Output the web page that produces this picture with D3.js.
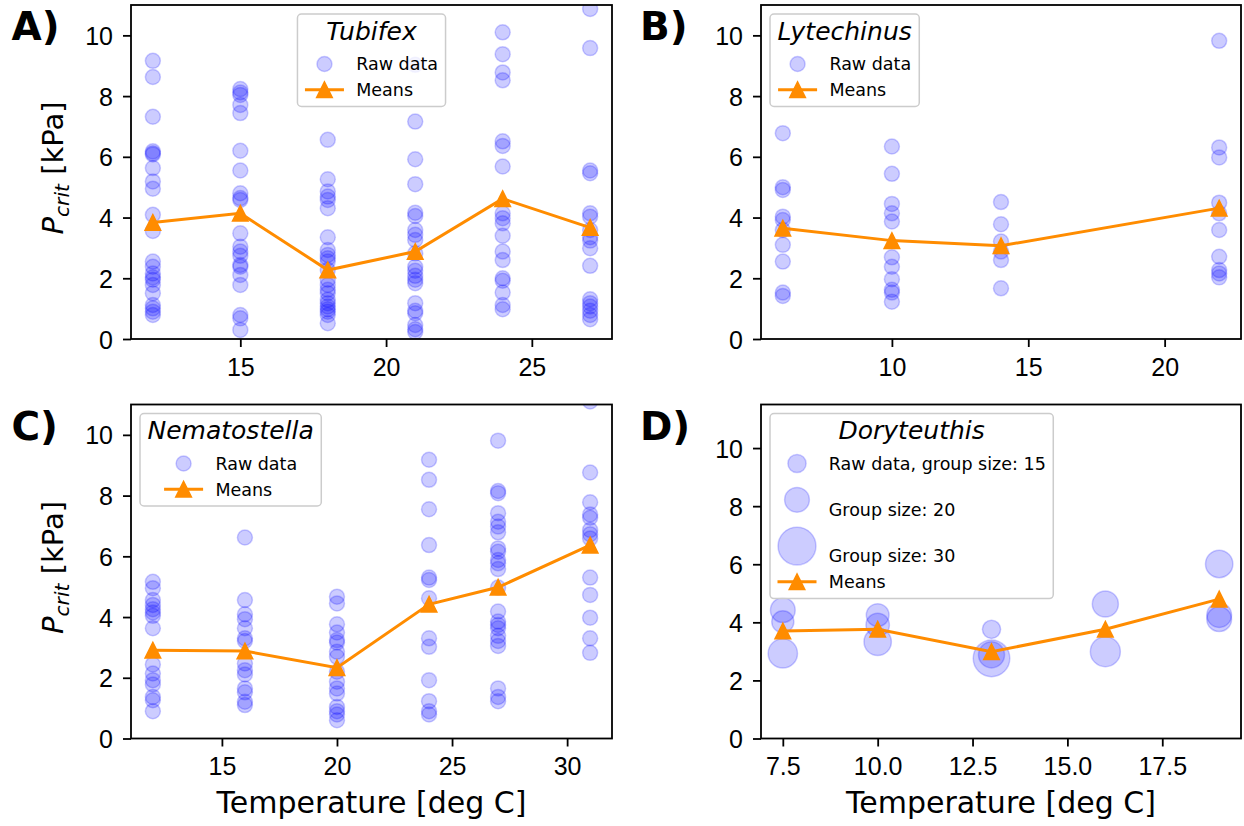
<!DOCTYPE html>
<html lang="en">
<head>
<meta charset="UTF-8">
<title>Pcrit vs temperature</title>
<script src="https://d3js.org/d3.v7.min.js"></script>
<style>
    body {margin:0; background:#fff;}
    svg {display:block; font-family:"DejaVu Sans", sans-serif;}
    .tick text {font-size:25px; fill:#000;}
    .tick line {stroke:#000; stroke-width:1.8;}
    .frame {fill:none; stroke:#000; stroke-width:1.8;}
    .raw {fill:#0000ff; fill-opacity:0.2; stroke:#0000ff; stroke-opacity:0.2; stroke-width:1.5;}
    .means {fill:none; stroke:#ff8c00; stroke-width:3;}
    .tri {fill:#ff8c00; stroke:#ff8c00; stroke-width:1.5; stroke-linejoin:miter;}
    .legendBox {fill:#fff; fill-opacity:0.8; stroke:#cccccc; stroke-width:1.5;}
    .letter {font-size:39px; font-weight:bold;}
</style>
</head>
<body>
<svg id="chart" width="1244" height="826"></svg>
<script>
// ---- data ----
var yTicks = [0, 2, 4, 6, 8, 10];

// A) Tubifex
var tubifexTemps = [12, 15, 18, 21, 24, 27];
var tubifexRaw = [
    [9.16, 8.63, 7.32, 6.18, 6.12, 6.08, 5.63, 5.19, 4.95, 4.09, 3.56, 2.55, 2.38, 2.16, 2.03, 1.95, 1.78, 1.51, 1.12, 1.01, 0.9, 0.79],
    [8.23, 8.12, 8.04, 7.71, 7.44, 6.2, 5.55, 4.8, 4.64, 4.58, 3.48, 3.04, 2.88, 2.74, 2.44, 2.38, 2.11, 1.78, 0.79, 0.68, 0.3],
    [6.56, 5.26, 4.86, 4.69, 4.58, 4.31, 3.35, 2.93, 2.77, 2.66, 2.55, 2.27, 1.95, 1.78, 1.62, 1.51, 1.29, 1.18, 1.07, 0.98, 0.9, 0.79, 0.52],
    [9.03, 7.16, 5.92, 5.1, 4.16, 4.05, 3.59, 3.43, 3.26, 2.82, 2.38, 2.25, 2.08, 1.95, 1.84, 1.18, 0.93, 0.85, 0.46, 0.32, 0.23],
    [10.1, 9.38, 8.78, 8.52, 6.51, 6.36, 5.68, 4.14, 3.98, 3.81, 3.4, 2.88, 2.6, 2.0, 1.92, 1.53, 1.12, 0.98],
    [10.87, 9.58, 5.55, 5.46, 4.14, 4.03, 3.59, 3.35, 3.24, 2.99, 2.41, 1.31, 1.18, 1.07, 0.93, 0.79, 0.65]
];
var tubifexMeans = [3.84, 4.14, 2.27, 2.88, 4.62, 3.67];
var tubifexTicks = [15, 20, 25];

// B) Lytechinus
var lytechinusTemps = [6, 10, 14, 22];
var lytechinusRaw = [
    [6.78, 5.0, 4.91, 4.03, 3.92, 3.59, 3.1, 2.55, 1.53, 1.42],
    [6.34, 5.44, 4.45, 4.14, 3.87, 2.69, 2.38, 1.97, 1.62, 1.53, 1.23],
    [4.51, 3.78, 3.21, 2.88, 2.6, 1.67],
    [9.82, 6.31, 5.98, 4.49, 4.14, 3.59, 2.71, 2.27, 2.16, 2.03]
];
var lytechinusMeans = [3.65, 3.24, 3.07, 4.31];
var lytechinusTicks = [10, 15, 20];

// C) Nematostella
var nematostellaTemps = [12, 16, 20, 24, 27, 31];
var nematostellaRaw = [
    [5.16, 4.95, 4.56, 4.4, 4.26, 4.15, 4.04, 3.63, 2.44, 2.14, 1.92, 1.78, 1.37, 1.26, 0.9],
    [6.62, 4.56, 4.09, 3.93, 3.63, 3.3, 3.21, 2.47, 2.25, 2.11, 1.65, 1.52, 1.21, 1.1],
    [4.67, 4.45, 3.76, 3.49, 3.24, 3.16, 2.86, 2.69, 2.2, 1.87, 1.65, 1.48, 1.04, 0.9, 0.79, 0.6],
    [9.18, 8.52, 7.55, 6.37, 5.3, 5.22, 4.62, 3.3, 3.02, 1.92, 1.23, 0.9, 0.79],
    [9.81, 8.15, 8.08, 7.42, 7.14, 6.98, 6.79, 6.26, 6.15, 5.88, 5.77, 5.58, 4.97, 4.18, 3.85, 3.74, 3.63, 3.38, 3.21, 3.05, 1.65, 1.37, 1.23],
    [11.1, 8.76, 7.78, 7.38, 7.27, 6.87, 6.73, 6.59, 5.3, 4.73, 3.98, 3.3, 2.82]
];
var nematostellaMeans = [2.91, 2.88, 2.33, 4.42, 4.98, 6.37];
var nematostellaTicks = [15, 20, 25, 30];

// D) Doryteuthis (point size = group size)
var doryTemps = [7.5, 10, 13, 16, 19];
var doryRaw = [
    [4.42, 4.02, 2.93],
    [4.25, 3.91, 3.33],
    [3.76, 2.88, 2.76],
    [4.63, 2.99],
    [6.01, 4.25, 4.11]
];
var doryGroups = [
    [20, 18, 23.5],
    [18.5, 19, 22],
    [15, 21, 29],
    [21, 24],
    [22, 20, 20]
];
var doryMeans = [3.70, 3.76, 2.99, 3.76, 4.80];
var doryTicks = [7.5, 10, 12.5, 15, 17.5];
var doryLegendSizes = [15, 20, 30];

// ---- drawing ----
var svg = d3.select("#chart");
var rawR = 7.5;
var sizeScale = d3.scaleLinear().domain([0, 30]).range([0, 19.7]);

function padDomain(v) {
    var lo = d3.min(v), hi = d3.max(v), m = (hi - lo) * 0.05;
    return [lo - m, hi + m];
}

function drawPanel(p) {
    var g = svg.append("g").attr("transform", "translate(" + p.left + "," + p.top + ")");
    var x = d3.scaleLinear().domain(padDomain(p.temps)).range([0, p.w]);
    var y = d3.scaleLinear().domain([0, p.ymax]).range([p.h, 0]);

    var clipId = "clip" + p.letter;
    g.append("clipPath").attr("id", clipId)
        .append("rect").attr("width", p.w).attr("height", p.h);

    var data = g.append("g").attr("clip-path", "url(#" + clipId + ")");

    // raw points
    var pts = [];
    p.temps.forEach(function(t, i) {
        p.raw[i].forEach(function(v, j) {
            pts.push({t: t, v: v, s: p.groups ? p.groups[i][j] : null});
        });
    });
    data.selectAll("circle.raw").data(pts).enter().append("circle")
        .attr("class", "raw")
        .attr("cx", function(d) { return x(d.t); })
        .attr("cy", function(d) { return y(d.v); })
        .attr("r", function(d) { return d.s ? sizeScale(d.s) - 0.75 : rawR; });

    // means line + triangles
    var mp = p.temps.map(function(t, i) { return [t, p.means[i]]; });
    data.append("path").attr("class", "means")
        .attr("d", d3.line().x(function(d) { return x(d[0]); }).y(function(d) { return y(d[1]); })(mp));
    data.selectAll("path.tri").data(mp).enter().append("path")
        .attr("class", "tri")
        .attr("d", triPath(7.8))
        .attr("transform", function(d) { return "translate(" + x(d[0]) + "," + y(d[1]) + ")"; });

    // axes
    var xa = g.append("g").attr("transform", "translate(0," + p.h + ")")
        .call(d3.axisBottom(x).tickValues(p.xTicks).tickFormat(p.fmt).tickSize(8).tickSizeOuter(0).tickPadding(11));
    xa.select(".domain").remove();
    var ya = g.append("g")
        .call(d3.axisLeft(y).tickValues(yTicks).tickSize(8).tickSizeOuter(0).tickPadding(10));
    ya.select(".domain").remove();
    ya.selectAll(".tick text").attr("dy", "0.36em");
    g.selectAll(".tick text").attr("font-family", null).attr("font-size", null);

    g.append("rect").attr("class", "frame").attr("width", p.w).attr("height", p.h);

    drawLegend(g, p);

    svg.append("text").attr("class", "letter")
        .attr("x", p.letterX).attr("y", p.top + 35)
        .text(p.letter + ")");

    if (p.yLabel) {
        var yl = svg.append("text")
            .attr("transform", "translate(63," + (p.top + p.h / 2 - 4) + ") rotate(-90)")
            .attr("text-anchor", "middle").attr("font-size", 29);
        yl.append("tspan").attr("font-style", "italic").text("P");
        yl.append("tspan").attr("font-style", "italic").attr("font-size", 20.3).attr("dy", 6).text("crit");
        yl.append("tspan").attr("dy", -6).text(" [kPa]");
    }
    if (p.xLabel) {
        svg.append("text")
            .attr("x", p.left + p.w / 2).attr("y", p.top + p.h + 74)
            .attr("text-anchor", "middle").attr("font-size", 30)
            .text("Temperature [deg C]");
    }
}

function triPath(h) {
    return "M0," + (-h) + "L" + (-h) + "," + h + "L" + h + "," + h + "Z";
}

function drawLegend(g, p) {
    var pad = 7.5, handleLen = 39, handleGap = 12.3;
    var lg = g.append("g");
    var box = lg.append("rect").attr("class", "legendBox").attr("rx", 4).attr("ry", 4);
    var title = lg.append("text").attr("font-size", 25).attr("font-style", "italic")
        .attr("text-anchor", "middle").text(p.title);
    var titleW = title.node().getComputedTextLength();

    var labels = p.legend.map(function(e) {
        return lg.append("text").attr("font-size", 17.5).text(e.label);
    });
    var textW = d3.max(labels, function(l) { return l.node().getComputedTextLength(); });
    var entW = handleLen + handleGap + textW;
    var boxW = Math.max(titleW, entW) + 2 * pad;
    var bx = p.legendCenter ? (p.w - boxW) / 2 : 9;
    var by = 9;

    var base = by + 25.5;
    title.attr("x", bx + boxW / 2).attr("y", base);

    var ex = bx + (boxW - entW) / 2;
    var hx = ex + handleLen / 2;
    base += 30.5;
    p.legend.forEach(function(e, i) {
        var lines = e.lines || 1;
        if (i > 0) base += 26 + (lines - 1) * 20.3;
        labels[i].attr("x", ex + handleLen + handleGap).attr("y", base);
        if (e.kind == "circle") {
            lg.append("circle").attr("class", "raw")
                .attr("cx", hx).attr("cy", base - 6 - (lines - 1) * 10)
                .attr("r", e.size ? sizeScale(e.size) - 0.75 : rawR);
        } else {
            var ly = base - 6.3;
            lg.append("line").attr("class", "means")
                .attr("x1", ex).attr("x2", ex + handleLen).attr("y1", ly).attr("y2", ly);
            lg.append("path").attr("class", "tri").attr("d", triPath(7.8))
                .attr("transform", "translate(" + hx + "," + ly + ")");
        }
    });
    box.attr("x", bx).attr("y", by).attr("width", boxW).attr("height", base + 10.5 - by);
}

var simpleLegend = [{kind: "circle", label: "Raw data"}, {kind: "line", label: "Means"}];
var doryLegend = doryLegendSizes.map(function(s, i) {
    return {kind: "circle", size: s, lines: i == 0 ? 1 : 2,
        label: (i == 0 ? "Raw data, group size: " : "Group size: ") + s};
});
doryLegend.push({kind: "line", label: "Means"});

drawPanel({letter: "A", letterX: 11.5, left: 131, top: 5, w: 481, h: 334, ymax: 11,
    temps: tubifexTemps, raw: tubifexRaw, means: tubifexMeans, xTicks: tubifexTicks, fmt: d3.format("d"),
    title: "Tubifex", legend: simpleLegend, legendCenter: true, yLabel: true});
drawPanel({letter: "B", letterX: 640, left: 761, top: 5, w: 480, h: 334, ymax: 11,
    temps: lytechinusTemps, raw: lytechinusRaw, means: lytechinusMeans, xTicks: lytechinusTicks, fmt: d3.format("d"),
    title: "Lytechinus", legend: simpleLegend});
drawPanel({letter: "C", letterX: 11.5, left: 131, top: 404.5, w: 481, h: 334, ymax: 11,
    temps: nematostellaTemps, raw: nematostellaRaw, means: nematostellaMeans, xTicks: nematostellaTicks, fmt: d3.format("d"),
    title: "Nematostella", legend: simpleLegend, yLabel: true, xLabel: true});
drawPanel({letter: "D", letterX: 640, left: 761, top: 404.5, w: 480, h: 334, ymax: 11.5,
    temps: doryTemps, raw: doryRaw, groups: doryGroups, means: doryMeans, xTicks: doryTicks, fmt: d3.format(".1f"),
    title: "Doryteuthis", legend: doryLegend, xLabel: true});
</script>
</body>
</html>
